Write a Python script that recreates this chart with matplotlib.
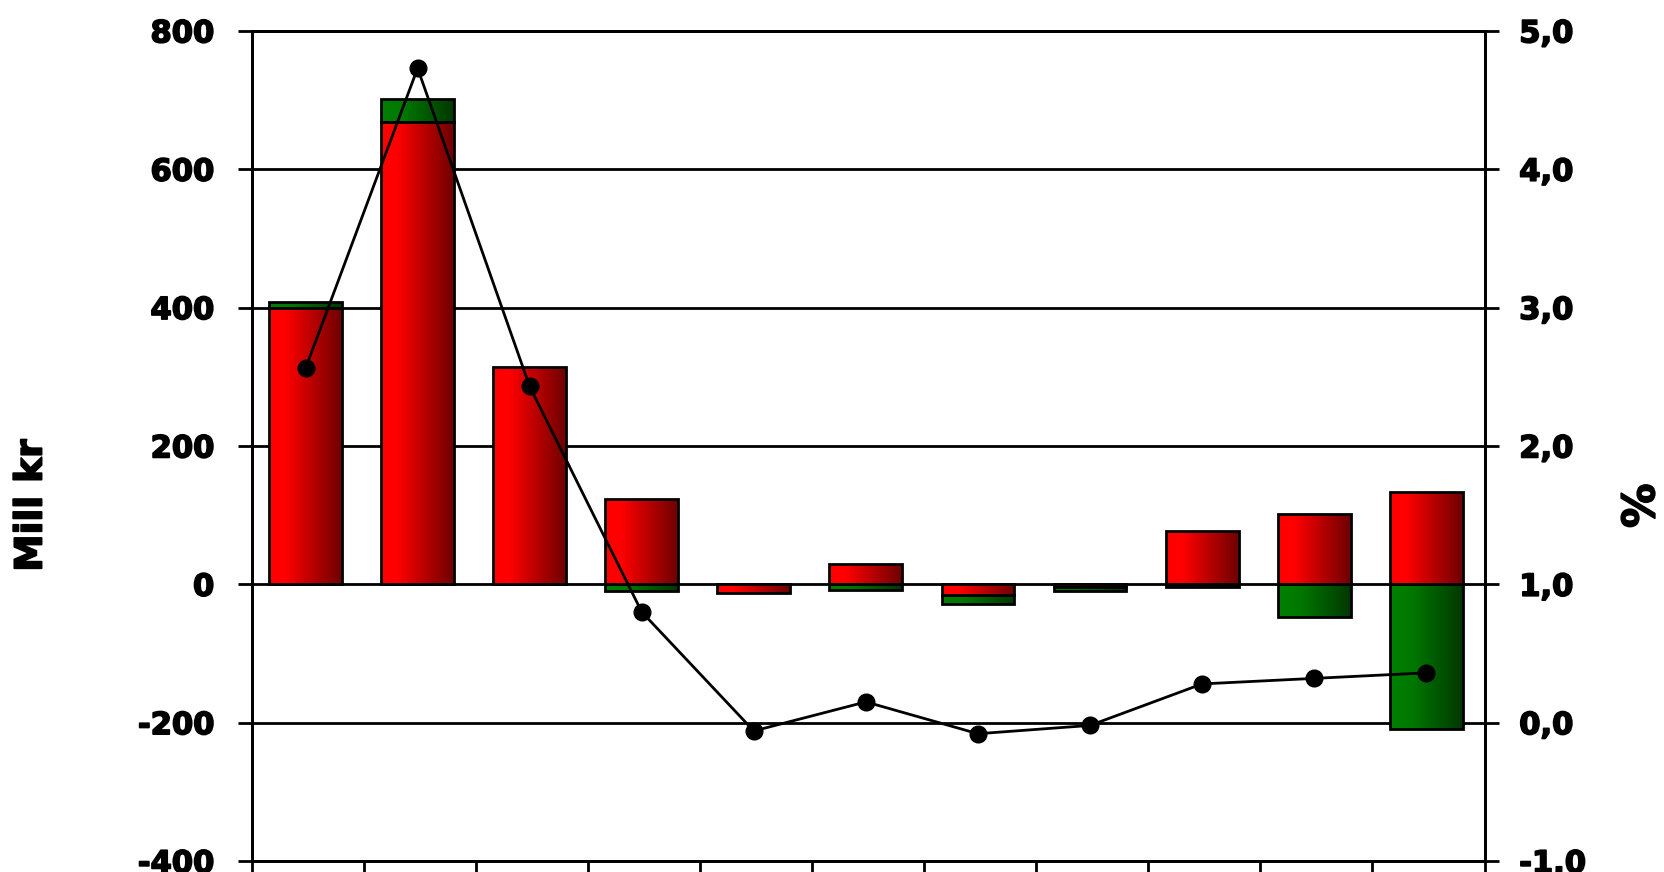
import numpy as np
import matplotlib
matplotlib.use("Agg")
import matplotlib.pyplot as plt
import matplotlib.patheffects as pe
from matplotlib.colors import LinearSegmentedColormap

# ---------- DATA ------------
categories = list(range(1, 12))
red_vals = [400, 668, 314, 124, -13, 30, -16, -4, 77, 102, 134]
green_vals = [8, 34, 0, -9, 0, -8, -13, -5, -4, -47, -209]
pct_vals = [2.56, 4.73, 2.43, 0.80, -0.06, 0.15, -0.08, -0.02, 0.28, 0.32, 0.36]
left_ticks = [-400, -200, 0, 200, 400, 600, 800]
right_ticks = [-1.0, 0.0, 1.0, 2.0, 3.0, 4.0, 5.0]
# ----------------------------

red_cmap = LinearSegmentedColormap.from_list("r", [(0, "#FF0000"), (0.22, "#FF0000"), (1, "#6E0000")])
green_cmap = LinearSegmentedColormap.from_list("g", [(0, "#008000"), (0.3, "#007800"), (1, "#003800")])
grad = np.linspace(0, 1, 256).reshape(1, -1)
heavy = [pe.withStroke(linewidth=1.2, foreground="black")]

fig = plt.figure(figsize=(16.65, 8.72), dpi=100)
ax = fig.add_axes([0.1512, 0.0126, 0.7404, 0.952])

x = np.array(categories)
red = np.array(red_vals, dtype=float)
green = np.array(green_vals, dtype=float)
# stack positives on positives, negatives on negatives
green_bottom = np.where(green >= 0, np.clip(red, 0, None), np.clip(red, None, 0))

bw = 0.65
lw = 2.0
for vals, bottoms, cmap in [(red, np.zeros_like(red), red_cmap), (green, green_bottom, green_cmap)]:
    bars = ax.bar(x - 0.02, vals, bw, bottom=bottoms, facecolor="none", edgecolor="black", linewidth=lw, zorder=3)
    for b, v in zip(bars, vals):
        if v == 0:
            b.set_visible(False)
            continue
        x0 = b.get_x()
        y0 = b.get_y()
        im = ax.imshow(grad, cmap=cmap, aspect="auto", extent=[x0, x0 + b.get_width(), y0, y0 + b.get_height()], zorder=2)
        im.set_clip_path(b)

ax.set_xlim(0.5, 11.5)
ax.set_ylim(-400, 800)
ax.set_yticks(left_ticks)
ax.set_yticklabels([str(t) for t in left_ticks])
ax.set_xticks(np.arange(0.5, 12.0, 1.0))
ax.set_xticklabels([])
ax.yaxis.grid(True, color="black", linewidth=2)
ax.set_axisbelow(True)
ax.tick_params(axis="y", direction="out", length=10, width=2, pad=17, labelsize=22)
ax.tick_params(axis="x", direction="out", length=12, width=2)
for lab in ax.get_yticklabels():
    lab.set_fontweight("bold")
    lab.set_path_effects(heavy)
for s in ["left", "right", "bottom", "top"]:
    ax.spines[s].set_linewidth(2)

ax2 = ax.twinx()
ax2.plot(x - 0.02, pct_vals, color="black", linewidth=2, marker="o", markersize=12, zorder=5)
ax2.set_ylim(-1, 5)
ax2.set_yticks(right_ticks)
ax2.set_yticklabels([("%.1f" % t).replace(".", ",") for t in right_ticks])
ax2.tick_params(axis="y", direction="out", length=10, width=2, pad=15, labelsize=22)
for lab in ax2.get_yticklabels():
    lab.set_fontweight("bold")
    lab.set_path_effects(heavy)
for s in ["left", "right", "bottom", "top"]:
    ax2.spines[s].set_linewidth(2)

fig.text(0.019, 0.42, "Mill kr", rotation=90, ha="center", va="center", fontsize=27,
         fontweight="bold", path_effects=heavy)
fig.text(0.986, 0.42, "%", rotation=90, ha="center", va="center", fontsize=32, fontweight="bold",
         path_effects=heavy)

fig.savefig("out.png", dpi=100)
